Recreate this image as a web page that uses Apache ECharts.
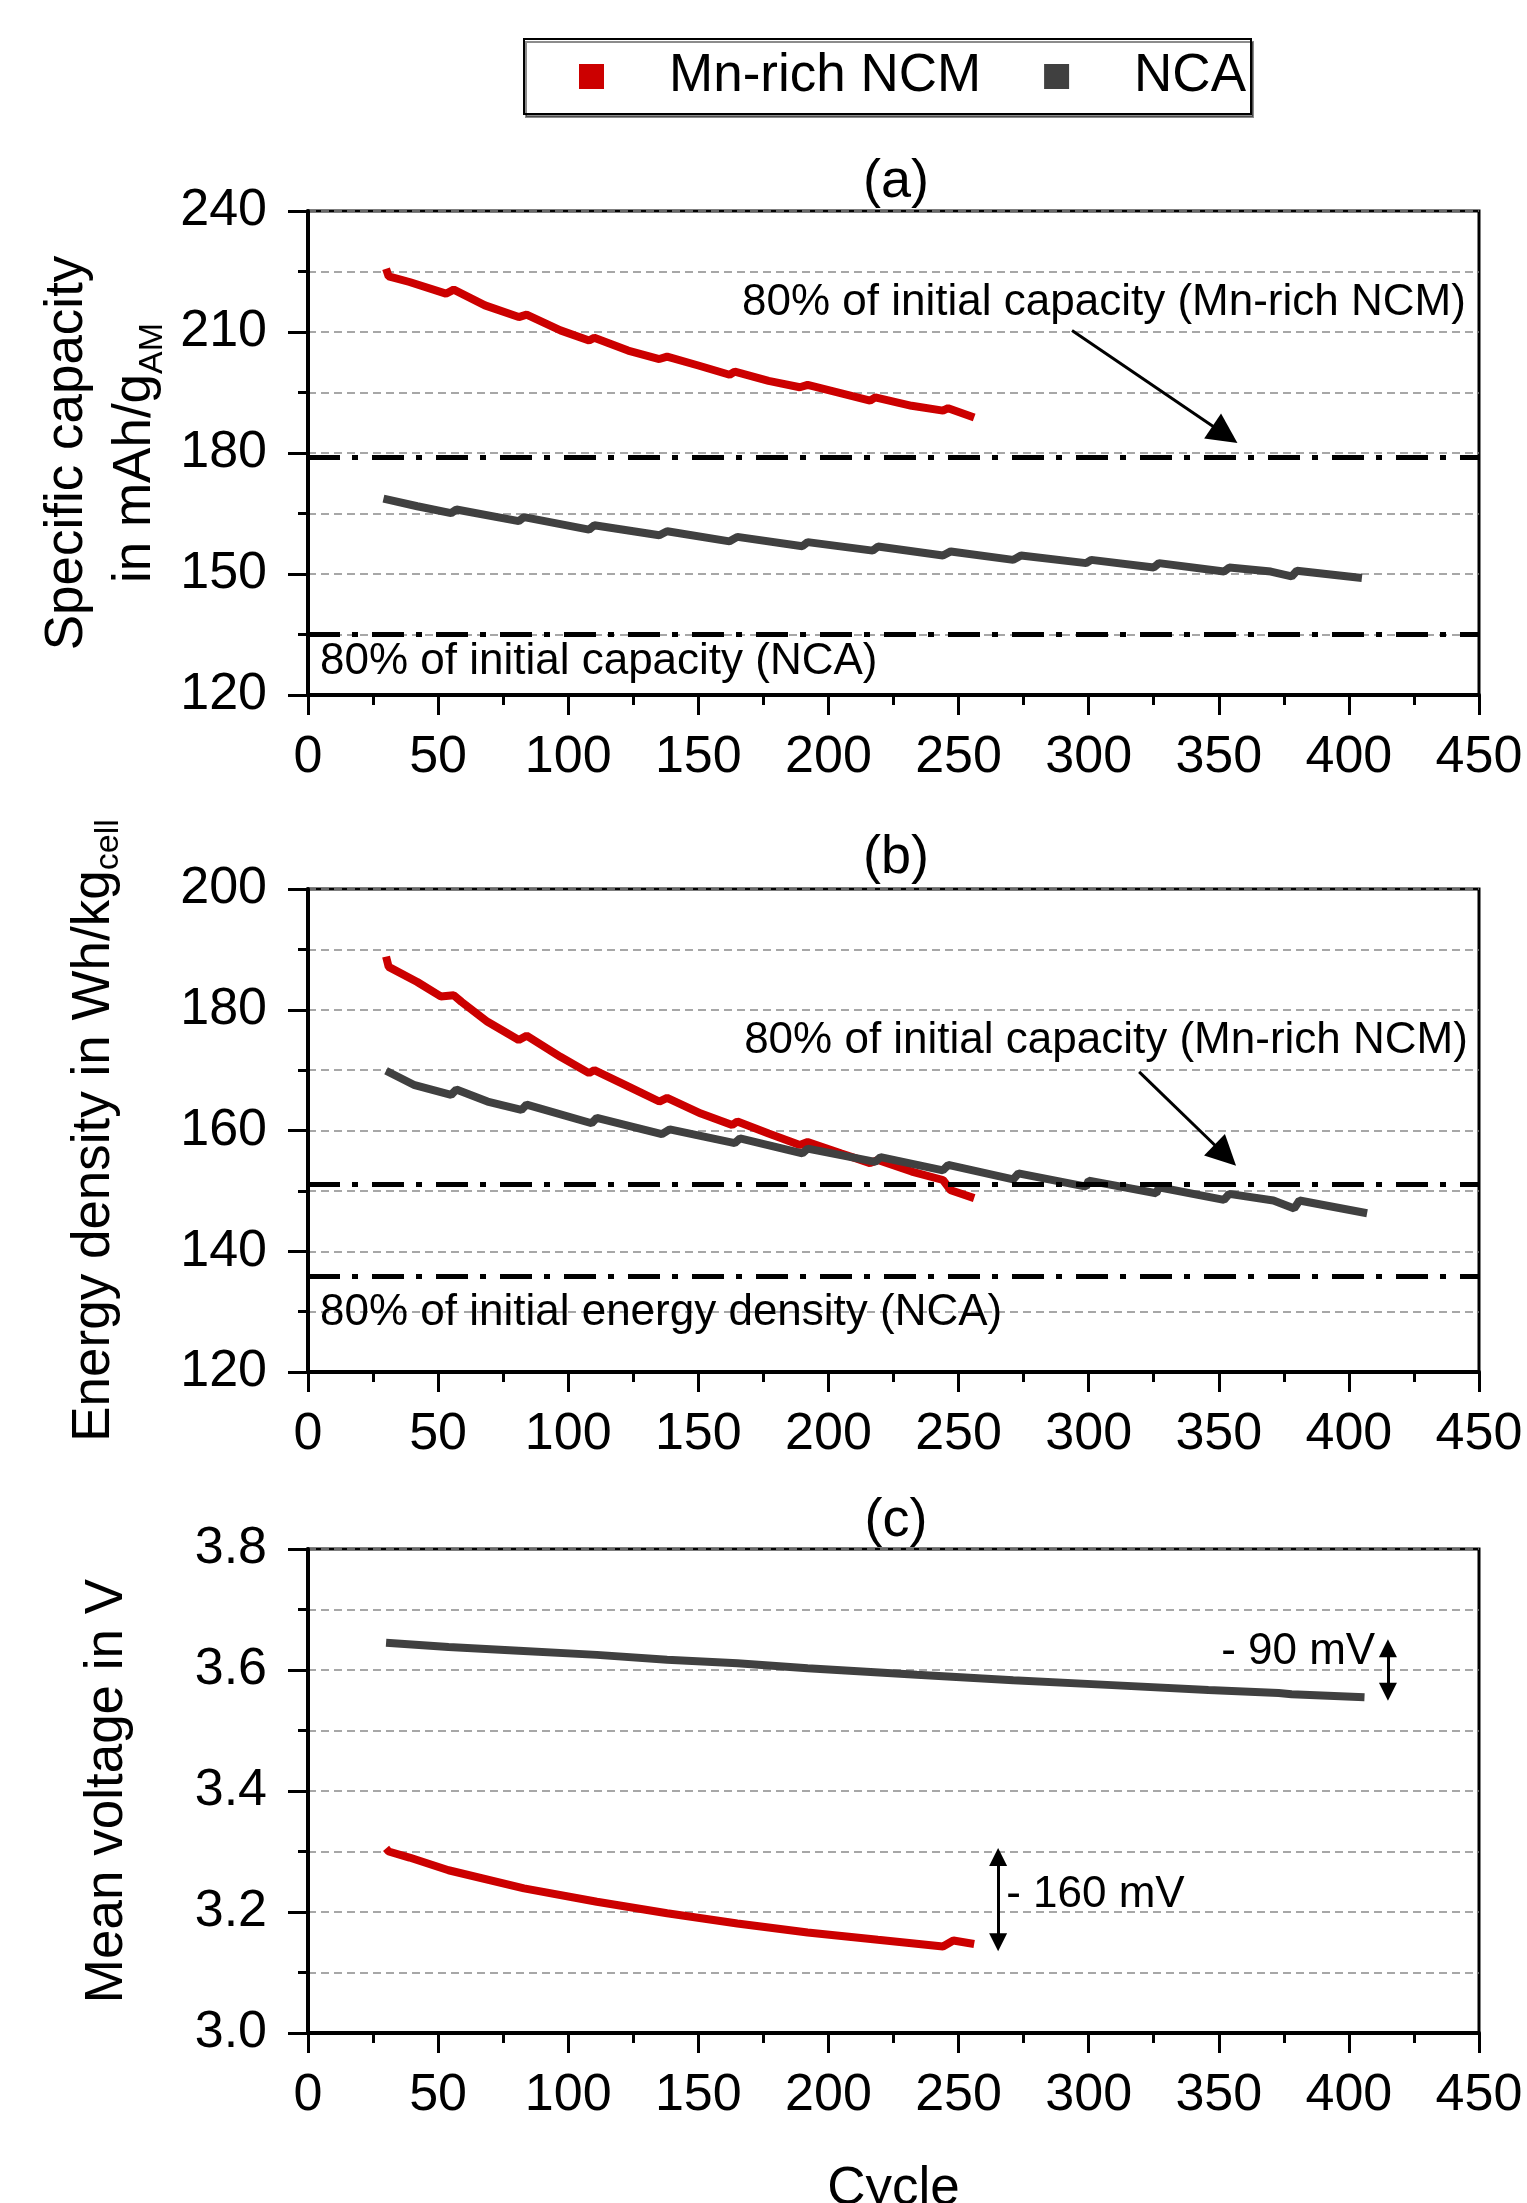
<!DOCTYPE html>
<html>
<head>
<meta charset="utf-8">
<script src="https://cdn.jsdelivr.net/npm/echarts@6/dist/echarts.min.js"></script>
<style>
  html, body { margin: 0; padding: 0; background: #fff; }
  #chart { width: 1527px; height: 2203px; }
</style>
</head>
<body>
<div id="chart"></div>
<script>
// (a) specific capacity, mAh/g_AM
var cycleNcmCap = [30, 31, 39, 53, 56, 68, 81, 84, 97, 108, 110, 123, 135, 138, 150, 162, 164, 177, 189, 192, 205, 216, 218, 232, 244, 246, 256];
var ncmCapacity = [225.7, 223.8, 222.4, 219.5, 220.5, 216.6, 213.7, 214.3, 210.4, 207.9, 208.6, 205.4, 203.3, 203.9, 201.7, 199.4, 200.2, 197.9, 196.3, 196.9, 194.8, 193.0, 193.8, 191.7, 190.5, 191.1, 188.8];
var cycleNcaCap = [29, 42, 55, 57, 81, 83, 108, 110, 135, 138, 162, 165, 190, 192, 217, 219, 244, 247, 271, 274, 299, 301, 325, 327, 352, 354, 370, 378, 380, 405];
var ncaCapacity = [168.7, 166.8, 165.1, 166.0, 163.1, 164.1, 161.0, 162.1, 159.6, 160.6, 158.1, 159.2, 156.9, 157.9, 155.8, 156.8, 154.6, 155.6, 153.5, 154.6, 152.7, 153.5, 151.6, 152.7, 150.6, 151.6, 150.6, 149.4, 150.8, 149.0];

// (b) energy density, Wh/kg_cell
var cycleNcmEnergy = [30, 31, 42, 51, 56, 59, 69, 81, 84, 97, 108, 110, 123, 135, 138, 151, 163, 165, 177, 189, 192, 205, 216, 219, 232, 244, 247, 256];
var ncmEnergy = [188.8, 187.1, 184.6, 182.2, 182.4, 181.3, 178.0, 175.0, 175.7, 172.2, 169.5, 170.0, 167.3, 164.8, 165.4, 162.8, 160.9, 161.5, 159.5, 157.6, 158.1, 156.2, 154.6, 155.1, 153.2, 151.8, 150.1, 148.8];
var cycleNcaEnergy = [30, 41, 55, 57, 69, 82, 84, 109, 111, 136, 139, 164, 166, 190, 192, 218, 220, 244, 246, 271, 273, 299, 300, 326, 327, 352, 354, 371, 379, 381, 407];
var ncaEnergy = [169.9, 167.5, 165.9, 166.8, 164.8, 163.4, 164.3, 161.2, 162.1, 159.4, 160.2, 157.9, 158.7, 156.2, 157.0, 154.8, 155.6, 153.4, 154.3, 151.9, 152.9, 150.7, 151.7, 149.6, 150.6, 148.5, 149.5, 148.4, 147.1, 148.4, 146.3];

// (c) mean voltage, V
var cycleNcmVolt = [30, 31, 39, 54, 83, 111, 138, 165, 192, 219, 244, 248, 256];
var ncmVoltage = [3.305, 3.300, 3.290, 3.269, 3.239, 3.217, 3.198, 3.181, 3.166, 3.154, 3.143, 3.153, 3.147];
var cycleNcaVolt = [30, 54, 81, 111, 138, 165, 192, 234, 271, 309, 346, 373, 378, 406];
var ncaVoltage = [3.645, 3.638, 3.632, 3.625, 3.617, 3.611, 3.603, 3.592, 3.583, 3.575, 3.567, 3.562, 3.560, 3.555];

// 80 % lines
var limitCapNcm = 179.0, limitCapNca = 135.0;
var limitEnergyNcm = 151.1, limitEnergyNca = 135.9;

var seriesNames = ["Mn-rich NCM", "NCA"];
var panelTitles = ["(a)", "(b)", "(c)"];

var FONT = '"Liberation Sans", Arial, sans-serif';
var RED = "#cc0000";
var GREY = "#404040";

var myChart = echarts.init(document.getElementById("chart"));

function pairs(xs, ys) {
  return xs.map(function (x, i) { return [x, ys[i]]; });
}

var gridDash = { type: [8, 5], color: "#8a8a8a", width: 1.5 };
var refLine = { color: "#000", width: 5, type: [32, 12, 6, 14] };

function xAxisFor(idx, name) {
  return {
    type: "value", gridIndex: idx, min: 0, max: 450, interval: 50,
    name: name || "", nameLocation: "middle", nameGap: 130,
    nameTextStyle: { fontSize: 53, color: "#000", fontFamily: FONT },
    axisLine: { lineStyle: { color: "#000", width: 4 } },
    axisTick: { inside: false, length: 20, lineStyle: { color: "#000", width: 3 } },
    minorTick: { show: true, splitNumber: 2, length: 10, lineStyle: { color: "#000", width: 3 } },
    axisLabel: { margin: 37, fontSize: 52, color: "#000", fontFamily: FONT },
    splitLine: { show: false },
  };
}

function yAxisFor(idx, min, max, interval, name, gap, digits, lh) {
  return {
    type: "value", gridIndex: idx, min: min, max: max, interval: interval,
    name: name, nameLocation: "middle", nameGap: gap,
    nameTextStyle: {
      fontSize: 53, color: "#000", fontFamily: FONT, lineHeight: lh || 64,
      rich: { sub: { fontSize: 34, fontFamily: FONT, color: "#000", verticalAlign: "bottom", lineHeight: 40 } },
    },
    axisLine: { lineStyle: { color: "#000", width: 4 } },
    axisTick: { length: 20, lineStyle: { color: "#000", width: 3 } },
    minorTick: { show: true, splitNumber: 2, length: 10, lineStyle: { color: "#000", width: 3 } },
    axisLabel: {
      margin: 41, fontSize: 52, color: "#000", fontFamily: FONT,
      formatter: function (v) { return v.toFixed(digits); },
    },
    splitLine: { show: true, lineStyle: gridDash },
    minorSplitLine: { show: true, lineStyle: gridDash },
  };
}

function note(coord, text, align) {
  return {
    coord: coord, symbol: "circle", symbolSize: 0,
    label: {
      show: true, position: [0, 0], align: align || "left", verticalAlign: "middle",
      formatter: text, fontSize: 44, color: "#000", fontFamily: FONT,
    },
  };
}

function arrow(from, to, both) {
  return [
    { coord: from, symbol: both ? "triangle" : "none" },
    { coord: to, symbol: "triangle" },
  ];
}

function lineSeries(name, color, g, data, extra) {
  var s = {
    name: name, type: "line", xAxisIndex: g, yAxisIndex: g,
    data: data, showSymbol: false, symbol: "rect", color: color,
    lineStyle: { color: color, width: 8 },
    z: 3,
  };
  return Object.assign(s, extra || {});
}

var option = {
  animation: false,
  backgroundColor: "#fff",
  textStyle: { fontFamily: FONT },
  legend: {
    data: seriesNames,
    left: 524, top: 39,
    icon: "rect", itemWidth: 25, itemHeight: 25, itemGap: 63,
    padding: [11, 5, 11, 55],
    borderColor: "#000", borderWidth: 2, backgroundColor: "#fff",
    shadowColor: "rgba(0,0,0,0.45)", shadowOffsetX: 2, shadowOffsetY: 3, shadowBlur: 0,
    textStyle: { fontSize: 53, lineHeight: 53, color: "#000", fontFamily: FONT, padding: [0, 0, 0, 60] },
  },
  title: panelTitles.map(function (t, i) {
    return {
      text: t, left: 891, top: [150, 826, 1489][i], textAlign: "center",
      textStyle: { fontSize: 54, fontWeight: "normal", color: "#000", fontFamily: FONT },
    };
  }),
  grid: [
    { left: 308, top: 211, width: 1171, height: 484 },
    { left: 308, top: 889, width: 1171, height: 483 },
    { left: 308, top: 1549, width: 1171, height: 484 },
  ].map(function (g) {
    return Object.assign(g, {
      show: true, borderColor: "#000", borderWidth: 3, backgroundColor: "transparent",
      outerBoundsMode: "none", containLabel: false,
    });
  }),
  xAxis: [xAxisFor(0), xAxisFor(1), xAxisFor(2, "Cycle")],
  yAxis: [
    yAxisFor(0, 120, 240, 30, "Specific capacity\nin mAh/g{sub|AM}", 124, 0, 68),
    yAxisFor(1, 120, 200, 20, "Energy density in Wh/kg{sub|cell}", 182, 0),
    yAxisFor(2, 3.0, 3.8, 0.2, "Mean voltage in V", 169, 1),
  ],
  series: [
    // (a)
    lineSeries(seriesNames[0], RED, 0, pairs(cycleNcmCap, ncmCapacity), {
      markPoint: { silent: true, data: [note([166.8, 217.3], "80% of initial capacity (Mn-rich NCM)")] },
      markLine: {
        silent: true, symbolSize: 30, label: { show: false },
        lineStyle: { color: "#000", width: 3, type: "solid" },
        data: [arrow([293.6, 210.4], [352.4, 184.6])],
      },
    }),
    lineSeries(seriesNames[1], GREY, 0, pairs(cycleNcaCap, ncaCapacity), {
      markPoint: { silent: true, data: [note([4.6, 128.2], "80% of initial capacity (NCA)")] },
      markLine: {
        silent: true, symbol: "none", label: { show: false }, lineStyle: refLine,
        data: [{ yAxis: limitCapNcm }, { yAxis: limitCapNca }],
      },
    }),
    // (b)
    lineSeries(seriesNames[0], RED, 1, pairs(cycleNcmEnergy, ncmEnergy), {
      markPoint: { silent: true, data: [note([167.6, 174.8], "80% of initial capacity (Mn-rich NCM)")] },
      markLine: {
        silent: true, symbolSize: 30, label: { show: false },
        lineStyle: { color: "#000", width: 3, type: "solid" },
        data: [arrow([319.4, 169.7], [352.5, 155.9])],
      },
    }),
    lineSeries(seriesNames[1], GREY, 1, pairs(cycleNcaEnergy, ncaEnergy), {
      markPoint: { silent: true, data: [note([4.6, 129.8], "80% of initial energy density (NCA)")] },
      markLine: {
        silent: true, symbol: "none", label: { show: false }, lineStyle: refLine,
        data: [{ yAxis: limitEnergyNcm }, { yAxis: limitEnergyNca }],
      },
    }),
    // (c)
    lineSeries(seriesNames[0], RED, 2, pairs(cycleNcmVolt, ncmVoltage), {
      markPoint: { silent: true, data: [note([268.3, 3.228], "- 160 mV")] },
      markLine: {
        silent: true, symbolSize: 18, label: { show: false },
        lineStyle: { color: "#000", width: 3, type: "solid" },
        data: [arrow([265.2, 3.291], [265.2, 3.150], true)],
      },
    }),
    lineSeries(seriesNames[1], GREY, 2, pairs(cycleNcaVolt, ncaVoltage), {
      markPoint: { silent: true, data: [note([410.1, 3.630], "- 90 mV", "right")] },
      markLine: {
        silent: true, symbolSize: 18, label: { show: false },
        lineStyle: { color: "#000", width: 3, type: "solid" },
        data: [arrow([415, 3.636], [415, 3.564], true)],
      },
    }),
  ],
};

myChart.setOption(option);
window.addEventListener("resize", myChart.resize);
</script>
</body>
</html>
